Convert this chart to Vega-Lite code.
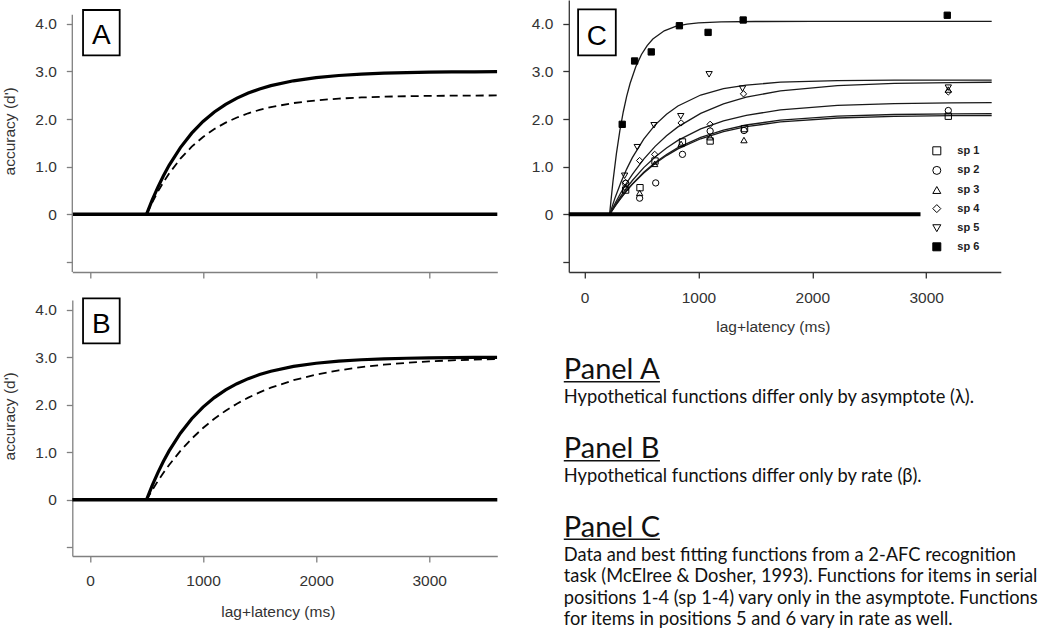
{
  "$schema": "https://vega.github.io/schema/vega-lite/v6.json",
  "padding": {"left": 1.3, "top": 0, "right": 0, "bottom": 0},
  "background": "white",
  "config": {
    "view": {"stroke": null},
    "font": "Liberation Sans",
    "axis": {
      "grid": false,
      "domainColor": "#808080",
      "tickColor": "#808080",
      "domainWidth": 1.3,
      "tickWidth": 1.3,
      "tickSize": 6,
      "labelFont": "Liberation Sans",
      "labelFontSize": 15.5,
      "labelColor": "#333333",
      "labelPadding": 10,
      "titleFont": "Liberation Sans",
      "titleFontSize": 15.5,
      "titleFontWeight": "normal",
      "titleColor": "#333333"
    },
    "axisX": {"labelPadding": 12, "labelBaseline": "top", "format": "d"}
  },
  "datasets": {
    "hypothetical": [
      {"fn": "base", "t": 500, "d": 0}, {"fn": "base", "t": 550, "d": 0.299}, {"fn": "base", "t": 600, "d": 0.568}, {"fn": "base", "t": 650, "d": 0.811}, {"fn": "base", "t": 700, "d": 1.029}, {"fn": "base", "t": 800, "d": 1.402}, {"fn": "base", "t": 900, "d": 1.705}, {"fn": "base", "t": 1000, "d": 1.95}, {"fn": "base", "t": 1100, "d": 2.149}, {"fn": "base", "t": 1200, "d": 2.31}, {"fn": "base", "t": 1300, "d": 2.441}, {"fn": "base", "t": 1400, "d": 2.547}, {"fn": "base", "t": 1500, "d": 2.633}, {"fn": "base", "t": 1600, "d": 2.702}, {"fn": "base", "t": 1800, "d": 2.804}, {"fn": "base", "t": 2000, "d": 2.871}, {"fn": "base", "t": 2200, "d": 2.915}, {"fn": "base", "t": 2400, "d": 2.944}, {"fn": "base", "t": 2600, "d": 2.963}, {"fn": "base", "t": 2800, "d": 2.976}, {"fn": "base", "t": 3000, "d": 2.984}, {"fn": "base", "t": 3200, "d": 2.99}, {"fn": "base", "t": 3400, "d": 2.993}, {"fn": "base", "t": 3600, "d": 2.996},
      {"fn": "lower", "t": 500, "d": 0}, {"fn": "lower", "t": 550, "d": 0.249}, {"fn": "lower", "t": 600, "d": 0.474}, {"fn": "lower", "t": 650, "d": 0.676}, {"fn": "lower", "t": 700, "d": 0.858}, {"fn": "lower", "t": 800, "d": 1.169}, {"fn": "lower", "t": 900, "d": 1.421}, {"fn": "lower", "t": 1000, "d": 1.625}, {"fn": "lower", "t": 1100, "d": 1.791}, {"fn": "lower", "t": 1200, "d": 1.925}, {"fn": "lower", "t": 1300, "d": 2.034}, {"fn": "lower", "t": 1400, "d": 2.122}, {"fn": "lower", "t": 1500, "d": 2.194}, {"fn": "lower", "t": 1600, "d": 2.252}, {"fn": "lower", "t": 1800, "d": 2.337}, {"fn": "lower", "t": 2000, "d": 2.393}, {"fn": "lower", "t": 2200, "d": 2.43}, {"fn": "lower", "t": 2400, "d": 2.454}, {"fn": "lower", "t": 2600, "d": 2.47}, {"fn": "lower", "t": 2800, "d": 2.48}, {"fn": "lower", "t": 3000, "d": 2.487}, {"fn": "lower", "t": 3200, "d": 2.491}, {"fn": "lower", "t": 3400, "d": 2.494}, {"fn": "lower", "t": 3600, "d": 2.496},
      {"fn": "slower", "t": 500, "d": 0}, {"fn": "slower", "t": 550, "d": 0.203}, {"fn": "slower", "t": 600, "d": 0.392}, {"fn": "slower", "t": 650, "d": 0.568}, {"fn": "slower", "t": 700, "d": 0.733}, {"fn": "slower", "t": 800, "d": 1.029}, {"fn": "slower", "t": 900, "d": 1.286}, {"fn": "slower", "t": 1000, "d": 1.51}, {"fn": "slower", "t": 1100, "d": 1.705}, {"fn": "slower", "t": 1200, "d": 1.874}, {"fn": "slower", "t": 1300, "d": 2.021}, {"fn": "slower", "t": 1400, "d": 2.149}, {"fn": "slower", "t": 1500, "d": 2.26}, {"fn": "slower", "t": 1600, "d": 2.357}, {"fn": "slower", "t": 1800, "d": 2.514}, {"fn": "slower", "t": 2000, "d": 2.633}, {"fn": "slower", "t": 2200, "d": 2.722}, {"fn": "slower", "t": 2400, "d": 2.79}, {"fn": "slower", "t": 2600, "d": 2.841}, {"fn": "slower", "t": 2800, "d": 2.88}, {"fn": "slower", "t": 3000, "d": 2.909}, {"fn": "slower", "t": 3200, "d": 2.932}, {"fn": "slower", "t": 3400, "d": 2.948}, {"fn": "slower", "t": 3600, "d": 2.961}
    ],
    "fits": [
      {"sp": "sp 1", "t": 220, "d": 0}, {"sp": "sp 1", "t": 270, "d": 0.179}, {"sp": "sp 1", "t": 320, "d": 0.343}, {"sp": "sp 1", "t": 370, "d": 0.492}, {"sp": "sp 1", "t": 420, "d": 0.629}, {"sp": "sp 1", "t": 520, "d": 0.868}, {"sp": "sp 1", "t": 620, "d": 1.067}, {"sp": "sp 1", "t": 720, "d": 1.234}, {"sp": "sp 1", "t": 820, "d": 1.374}, {"sp": "sp 1", "t": 1020, "d": 1.587}, {"sp": "sp 1", "t": 1220, "d": 1.736}, {"sp": "sp 1", "t": 1420, "d": 1.84}, {"sp": "sp 1", "t": 1720, "d": 1.94}, {"sp": "sp 1", "t": 2220, "d": 2.023}, {"sp": "sp 1", "t": 2720, "d": 2.057}, {"sp": "sp 1", "t": 3220, "d": 2.071}, {"sp": "sp 1", "t": 3575, "d": 2.075},
      {"sp": "sp 2", "t": 220, "d": 0}, {"sp": "sp 2", "t": 270, "d": 0.183}, {"sp": "sp 2", "t": 320, "d": 0.349}, {"sp": "sp 2", "t": 370, "d": 0.502}, {"sp": "sp 2", "t": 420, "d": 0.641}, {"sp": "sp 2", "t": 520, "d": 0.885}, {"sp": "sp 2", "t": 620, "d": 1.088}, {"sp": "sp 2", "t": 720, "d": 1.258}, {"sp": "sp 2", "t": 820, "d": 1.4}, {"sp": "sp 2", "t": 1020, "d": 1.618}, {"sp": "sp 2", "t": 1220, "d": 1.77}, {"sp": "sp 2", "t": 1420, "d": 1.876}, {"sp": "sp 2", "t": 1720, "d": 1.978}, {"sp": "sp 2", "t": 2220, "d": 2.062}, {"sp": "sp 2", "t": 2720, "d": 2.096}, {"sp": "sp 2", "t": 3220, "d": 2.11}, {"sp": "sp 2", "t": 3575, "d": 2.115},
      {"sp": "sp 3", "t": 220, "d": 0}, {"sp": "sp 3", "t": 270, "d": 0.202}, {"sp": "sp 3", "t": 320, "d": 0.387}, {"sp": "sp 3", "t": 370, "d": 0.556}, {"sp": "sp 3", "t": 420, "d": 0.71}, {"sp": "sp 3", "t": 520, "d": 0.981}, {"sp": "sp 3", "t": 620, "d": 1.206}, {"sp": "sp 3", "t": 720, "d": 1.394}, {"sp": "sp 3", "t": 820, "d": 1.552}, {"sp": "sp 3", "t": 1020, "d": 1.793}, {"sp": "sp 3", "t": 1220, "d": 1.962}, {"sp": "sp 3", "t": 1420, "d": 2.079}, {"sp": "sp 3", "t": 1720, "d": 2.192}, {"sp": "sp 3", "t": 2220, "d": 2.286}, {"sp": "sp 3", "t": 2720, "d": 2.324}, {"sp": "sp 3", "t": 3220, "d": 2.339}, {"sp": "sp 3", "t": 3575, "d": 2.344},
      {"sp": "sp 4", "t": 220, "d": 0}, {"sp": "sp 4", "t": 270, "d": 0.239}, {"sp": "sp 4", "t": 320, "d": 0.458}, {"sp": "sp 4", "t": 370, "d": 0.658}, {"sp": "sp 4", "t": 420, "d": 0.84}, {"sp": "sp 4", "t": 520, "d": 1.16}, {"sp": "sp 4", "t": 620, "d": 1.427}, {"sp": "sp 4", "t": 720, "d": 1.65}, {"sp": "sp 4", "t": 820, "d": 1.836}, {"sp": "sp 4", "t": 1020, "d": 2.121}, {"sp": "sp 4", "t": 1220, "d": 2.32}, {"sp": "sp 4", "t": 1420, "d": 2.459}, {"sp": "sp 4", "t": 1720, "d": 2.593}, {"sp": "sp 4", "t": 2220, "d": 2.704}, {"sp": "sp 4", "t": 2720, "d": 2.749}, {"sp": "sp 4", "t": 3220, "d": 2.767}, {"sp": "sp 4", "t": 3575, "d": 2.773},
      {"sp": "sp 5", "t": 220, "d": 0}, {"sp": "sp 5", "t": 270, "d": 0.361}, {"sp": "sp 5", "t": 320, "d": 0.676}, {"sp": "sp 5", "t": 370, "d": 0.95}, {"sp": "sp 5", "t": 420, "d": 1.19}, {"sp": "sp 5", "t": 520, "d": 1.58}, {"sp": "sp 5", "t": 620, "d": 1.878}, {"sp": "sp 5", "t": 720, "d": 2.103}, {"sp": "sp 5", "t": 820, "d": 2.275}, {"sp": "sp 5", "t": 1020, "d": 2.505}, {"sp": "sp 5", "t": 1220, "d": 2.638}, {"sp": "sp 5", "t": 1420, "d": 2.715}, {"sp": "sp 5", "t": 1720, "d": 2.774}, {"sp": "sp 5", "t": 2220, "d": 2.808}, {"sp": "sp 5", "t": 2720, "d": 2.817}, {"sp": "sp 5", "t": 3220, "d": 2.819}, {"sp": "sp 5", "t": 3575, "d": 2.82},
      {"sp": "sp 6", "t": 220, "d": 0}, {"sp": "sp 6", "t": 250, "d": 0.697}, {"sp": "sp 6", "t": 280, "d": 1.275}, {"sp": "sp 6", "t": 310, "d": 1.753}, {"sp": "sp 6", "t": 340, "d": 2.149}, {"sp": "sp 6", "t": 370, "d": 2.476}, {"sp": "sp 6", "t": 400, "d": 2.747}, {"sp": "sp 6", "t": 450, "d": 3.099}, {"sp": "sp 6", "t": 500, "d": 3.356}, {"sp": "sp 6", "t": 550, "d": 3.543}, {"sp": "sp 6", "t": 600, "d": 3.68}, {"sp": "sp 6", "t": 700, "d": 3.853}, {"sp": "sp 6", "t": 800, "d": 3.945}, {"sp": "sp 6", "t": 900, "d": 3.994}, {"sp": "sp 6", "t": 1000, "d": 4.02}, {"sp": "sp 6", "t": 1200, "d": 4.042}, {"sp": "sp 6", "t": 1500, "d": 4.049}, {"sp": "sp 6", "t": 2000, "d": 4.05}, {"sp": "sp 6", "t": 3575, "d": 4.05}
    ],
    "observed": [
      {"sp": "sp 1", "t": 361, "d": 0.51}, {"sp": "sp 1", "t": 487, "d": 0.56}, {"sp": "sp 1", "t": 619, "d": 1.12}, {"sp": "sp 1", "t": 860, "d": 1.52}, {"sp": "sp 1", "t": 1103, "d": 1.54}, {"sp": "sp 1", "t": 1405, "d": 1.8}, {"sp": "sp 1", "t": 3194, "d": 2.06},
      {"sp": "sp 2", "t": 361, "d": 0.65}, {"sp": "sp 2", "t": 484, "d": 0.34}, {"sp": "sp 2", "t": 625, "d": 0.66}, {"sp": "sp 2", "t": 860, "d": 1.26}, {"sp": "sp 2", "t": 1103, "d": 1.75}, {"sp": "sp 2", "t": 1400, "d": 1.76}, {"sp": "sp 2", "t": 3194, "d": 2.18},
      {"sp": "sp 3", "t": 361, "d": 0.57}, {"sp": "sp 3", "t": 484, "d": 0.45}, {"sp": "sp 3", "t": 616, "d": 1.06}, {"sp": "sp 3", "t": 848, "d": 1.48}, {"sp": "sp 3", "t": 1103, "d": 1.62}, {"sp": "sp 3", "t": 1400, "d": 1.56}, {"sp": "sp 3", "t": 3194, "d": 2.62},
      {"sp": "sp 4", "t": 361, "d": 0.67}, {"sp": "sp 4", "t": 484, "d": 1.13}, {"sp": "sp 4", "t": 616, "d": 1.26}, {"sp": "sp 4", "t": 848, "d": 1.92}, {"sp": "sp 4", "t": 1103, "d": 1.89}, {"sp": "sp 4", "t": 1396, "d": 2.53}, {"sp": "sp 4", "t": 3194, "d": 2.57},
      {"sp": "sp 5", "t": 352, "d": 0.81}, {"sp": "sp 5", "t": 463, "d": 1.41}, {"sp": "sp 5", "t": 610, "d": 1.87}, {"sp": "sp 5", "t": 845, "d": 2.06}, {"sp": "sp 5", "t": 1094, "d": 2.94}, {"sp": "sp 5", "t": 1387, "d": 2.64}, {"sp": "sp 5", "t": 3194, "d": 2.66},
      {"sp": "sp 6", "t": 331, "d": 1.89}, {"sp": "sp 6", "t": 440, "d": 3.22}, {"sp": "sp 6", "t": 586, "d": 3.41}, {"sp": "sp 6", "t": 833, "d": 3.96}, {"sp": "sp 6", "t": 1085, "d": 3.82}, {"sp": "sp 6", "t": 1393, "d": 4.08}, {"sp": "sp 6", "t": 3185, "d": 4.18}
    ],
    "notes": [
      {"line": 0, "style": "heading", "text": "Panel A"},
      {"line": 1.116, "style": "body", "text": "Hypothetical functions differ only by asymptote (λ)."},
      {"line": 3.674, "style": "heading", "text": "Panel B"},
      {"line": 4.763, "style": "body", "text": "Hypothetical functions differ only by rate (β)."},
      {"line": 7.321, "style": "heading", "text": "Panel C"},
      {"line": 8.437, "style": "body", "text": "Data and best fitting functions from a 2-AFC recognition"},
      {"line": 9.442, "style": "body", "text": "task (McElree & Dosher, 1993). Functions for items in serial"},
      {"line": 10.451, "style": "body", "text": "positions 1-4 (sp 1-4) vary only in the asymptote. Functions"},
      {"line": 11.428, "style": "body", "text": "for items in positions 5 and 6 vary in rate as well."}
    ]
  },
  "bounds": "flush",
  "columns": 2,
  "spacing": {"row": 28, "column": 71.5},
  "concat": [
    {
      "width": 425,
      "height": 272,
      "layer": [
        {
          "data": {"name": "hypothetical"},
          "transform": [{"filter": "datum.fn === 'base'"}],
          "mark": {"type": "line", "color": "black", "strokeWidth": 3.2},
          "encoding": {
            "x": {"field": "t", "type": "quantitative", "scale": {"domain": [-156, 3602], "nice": false, "zero": false},
              "axis": {"values": [0, 1000, 2000, 3000], "labels": false, "title": null}},
            "y": {"field": "d", "type": "quantitative", "scale": {"domain": [-1.21, 4.5], "nice": false, "zero": false},
              "axis": {"values": [-1, 0, 1, 2, 3, 4], "domain": false,
                "labelExpr": "datum.value === -1 ? '' : (datum.value === 0 ? '0' : format(datum.value, '.1f'))",
                "title": "accuracy (d')", "titleX": -63.2, "titleY": 130.8, "titleAngle": 270, "titleAlign": "center", "titleBaseline": "middle"}}
          }
        },
        {
          "data": {"name": "hypothetical"},
          "transform": [{"filter": "datum.fn === 'lower'"}],
          "mark": {"type": "line", "color": "black", "strokeWidth": 1.8, "strokeDash": [8, 5]},
          "encoding": {
            "x": {"field": "t", "type": "quantitative"},
            "y": {"field": "d", "type": "quantitative"}
          }
        },
        {
          "data": {"values": [{"d": 0}]},
          "mark": {"type": "rule", "color": "black", "strokeWidth": 3.5},
          "encoding": {
            "y": {"field": "d", "type": "quantitative"}
          }
        },
        {
          "data": {"values": [{"d": 0}]},
          "mark": {"type": "rule", "color": "#808080", "strokeWidth": 1.3},
          "encoding": {
            "x": {"datum": -156, "type": "quantitative"},
            "y": {"datum": -1.21, "type": "quantitative"},
            "y2": {"datum": 4.19}
          }
        },
        {
          "data": {"values": [{"panel": "A"}]},
          "mark": {"type": "rect", "fill": "white", "stroke": "black", "strokeWidth": 1.8},
          "encoding": {
            "x": {"datum": -61, "type": "quantitative"},
            "x2": {"datum": 263},
            "y": {"datum": 4.29, "type": "quantitative"},
            "y2": {"datum": 3.339}
          }
        },
        {
          "data": {"values": [{"panel": "A"}]},
          "mark": {"type": "text", "fontSize": 28, "font": "Liberation Sans", "align": "center", "baseline": "alphabetic", "color": "black"},
          "encoding": {
            "x": {"datum": 101, "type": "quantitative"},
            "y": {"datum": 3.57, "type": "quantitative"},
            "text": {"field": "panel"}
          }
        }
      ]
    },
    {
      "width": 432,
      "height": 272,
      "layer": [
        {
          "data": {"name": "fits"},
          "mark": {"type": "line", "color": "#1a1a1a", "strokeWidth": 1.3},
          "encoding": {
            "x": {"field": "t", "type": "quantitative", "scale": {"domain": [-138, 3655], "nice": false, "zero": false},
              "axis": {"values": [0, 1000, 2000, 3000], "domainColor": "#333333", "tickColor": "#333333", "title": "lag+latency (ms)", "titleX": 204, "titleY": 60, "titleAlign": "center", "titleBaseline": "alphabetic"}},
            "y": {"field": "d", "type": "quantitative", "scale": {"domain": [-1.21, 4.5], "nice": false, "zero": false},
              "axis": {"values": [-1, 0, 1, 2, 3, 4], "domainColor": "#333333", "tickColor": "#333333",
                "labelExpr": "datum.value === -1 ? '' : (datum.value === 0 ? '0' : format(datum.value, '.1f'))",
                "title": null}},
            "detail": {"field": "sp", "type": "nominal"}
          }
        },
        {
          "data": {"values": [{"d": 0}]},
          "mark": {"type": "rule", "color": "black", "strokeWidth": 4},
          "encoding": {
            "x": {"datum": -138, "type": "quantitative"},
            "x2": {"datum": 2950},
            "y": {"field": "d", "type": "quantitative"}
          }
        },
        {
          "data": {"name": "observed"},
          "mark": {"type": "point", "strokeWidth": 1, "size": 40, "opacity": 1},
          "encoding": {
            "x": {"field": "t", "type": "quantitative"},
            "y": {"field": "d", "type": "quantitative"},
            "shape": {"field": "sp", "type": "nominal",
              "scale": {"domain": ["sp 1", "sp 2", "sp 3", "sp 4", "sp 5", "sp 6"], "range": ["square", "circle", "triangle-up", "diamond", "triangle-down", "square"]},
              "legend": {"orient": "none", "legendX": 859, "legendY": 145.3, "title": null, "padding": 0, "symbolSize": 64, "symbolStrokeWidth": 1, "labelFont": "Liberation Sans", "labelFontSize": 11, "labelFontWeight": "bold", "labelColor": "#222222", "rowPadding": 6.6, "labelOffset": 15}},
            "fill": {"field": "sp", "type": "nominal",
              "scale": {"domain": ["sp 1", "sp 2", "sp 3", "sp 4", "sp 5", "sp 6"], "range": ["transparent", "transparent", "transparent", "transparent", "transparent", "black"]},
              "legend": {"orient": "none", "legendX": 859, "legendY": 145.3, "title": null, "padding": 0, "symbolSize": 64, "symbolStrokeWidth": 1, "labelFont": "Liberation Sans", "labelFontSize": 11, "labelFontWeight": "bold", "labelColor": "#222222", "rowPadding": 6.6, "labelOffset": 15}},
            "stroke": {"field": "sp", "type": "nominal",
              "scale": {"domain": ["sp 1", "sp 2", "sp 3", "sp 4", "sp 5", "sp 6"], "range": ["black", "black", "black", "black", "black", "black"]},
              "legend": {"orient": "none", "legendX": 859, "legendY": 145.3, "title": null, "padding": 0, "symbolSize": 64, "symbolStrokeWidth": 1, "labelFont": "Liberation Sans", "labelFontSize": 11, "labelFontWeight": "bold", "labelColor": "#222222", "rowPadding": 6.6, "labelOffset": 15}}
          }
        },
        {
          "data": {"values": [{"panel": "C"}]},
          "mark": {"type": "rect", "fill": "white", "stroke": "black", "strokeWidth": 1.8},
          "encoding": {
            "x": {"datum": -56.3, "type": "quantitative"},
            "x2": {"datum": 274.7},
            "y": {"datum": 4.305, "type": "quantitative"},
            "y2": {"datum": 3.339}
          }
        },
        {
          "data": {"values": [{"panel": "C"}]},
          "mark": {"type": "text", "fontSize": 28, "font": "Liberation Sans", "align": "center", "baseline": "alphabetic", "color": "black"},
          "encoding": {
            "x": {"datum": 109, "type": "quantitative"},
            "y": {"datum": 3.555, "type": "quantitative"},
            "text": {"field": "panel"}
          }
        }
      ]
    },
    {
      "width": 425,
      "height": 256,
      "layer": [
        {
          "data": {"name": "hypothetical"},
          "transform": [{"filter": "datum.fn === 'base'"}],
          "mark": {"type": "line", "color": "black", "strokeWidth": 3.2},
          "encoding": {
            "x": {"field": "t", "type": "quantitative", "scale": {"domain": [-156, 3602], "nice": false, "zero": false},
              "axis": {"values": [0, 1000, 2000, 3000], "title": "lag+latency (ms)", "titleX": 205.5, "titleY": 61, "titleAlign": "center", "titleBaseline": "alphabetic"}},
            "y": {"field": "d", "type": "quantitative", "scale": {"domain": [-1.18, 4.2], "nice": false, "zero": false},
              "axis": {"values": [-1, 0, 1, 2, 3, 4],
                "labelExpr": "datum.value === -1 ? '' : (datum.value === 0 ? '0' : format(datum.value, '.1f'))",
                "title": "accuracy (d')", "titleX": -63.2, "titleY": 115.8, "titleAngle": 270, "titleAlign": "center", "titleBaseline": "middle"}}
          }
        },
        {
          "data": {"name": "hypothetical"},
          "transform": [{"filter": "datum.fn === 'slower'"}],
          "mark": {"type": "line", "color": "black", "strokeWidth": 1.8, "strokeDash": [8, 5]},
          "encoding": {
            "x": {"field": "t", "type": "quantitative"},
            "y": {"field": "d", "type": "quantitative"}
          }
        },
        {
          "data": {"values": [{"d": 0}]},
          "mark": {"type": "rule", "color": "black", "strokeWidth": 3.5},
          "encoding": {
            "y": {"field": "d", "type": "quantitative"}
          }
        },
        {
          "data": {"values": [{"panel": "B"}]},
          "mark": {"type": "rect", "fill": "white", "stroke": "black", "strokeWidth": 1.8},
          "encoding": {
            "x": {"datum": -61, "type": "quantitative"},
            "x2": {"datum": 263},
            "y": {"datum": 4.236, "type": "quantitative"},
            "y2": {"datum": 3.29}
          }
        },
        {
          "data": {"values": [{"panel": "B"}]},
          "mark": {"type": "text", "fontSize": 28, "font": "Liberation Sans", "align": "center", "baseline": "alphabetic", "color": "black"},
          "encoding": {
            "x": {"datum": 101, "type": "quantitative"},
            "y": {"datum": 3.5, "type": "quantitative"},
            "text": {"field": "panel"}
          }
        }
      ]
    },
    {
      "width": 432,
      "height": 328,
      "data": {"name": "notes"},
      "layer": [
        {
          "transform": [{"filter": "datum.style === 'heading'"}],
          "mark": {"type": "text", "align": "left", "baseline": "alphabetic", "font": "Lato", "fontSize": 29, "color": "#111111"},
          "encoding": {
            "x": {"datum": -0.0116, "type": "quantitative", "scale": {"domain": [0, 1], "nice": false, "zero": false}, "axis": null},
            "y": {"field": "line", "type": "quantitative", "scale": {"domain": [-3.688, 11.567], "reverse": true, "nice": false, "zero": false}, "axis": null},
            "text": {"field": "text"}
          }
        },
        {
          "transform": [{"filter": "datum.style === 'heading'"}],
          "mark": {"type": "rule", "color": "#111111", "strokeWidth": 1.6, "yOffset": 2.5, "y2Offset": 2.5},
          "encoding": {
            "x": {"datum": -0.0116, "type": "quantitative", "axis": null},
            "x2": {"datum": 0.211},
            "y": {"field": "line", "type": "quantitative", "axis": null}
          }
        },
        {
          "transform": [{"filter": "datum.style === 'body'"}],
          "mark": {"type": "text", "align": "left", "baseline": "alphabetic", "font": "Lato", "fontSize": 18.3, "color": "#111111"},
          "encoding": {
            "x": {"datum": -0.0116, "type": "quantitative", "axis": null},
            "y": {"field": "line", "type": "quantitative", "axis": null},
            "text": {"field": "text"}
          }
        }
      ]
    }
  ]
}
